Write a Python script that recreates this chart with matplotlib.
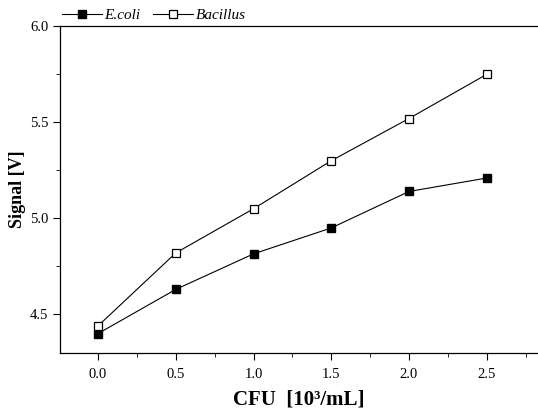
import matplotlib
matplotlib.use("Agg")
import matplotlib.pyplot as plt
from matplotlib.ticker import MultipleLocator, FormatStrFormatter

plt.rcParams['font.family'] = ['Liberation Serif', 'DejaVu Serif']

cfu = [0.0, 0.5, 1.0, 1.5, 2.0, 2.5]
ecoli = [4.40, 4.63, 4.815, 4.95, 5.14, 5.21]
bacillus = [4.44, 4.82, 5.05, 5.30, 5.52, 5.75]

fig = plt.figure(figsize=(5.38, 4.15), dpi=100)
ax = fig.add_axes([0.1115, 0.150, 0.8885, 0.7865])

ax.plot(cfu, ecoli, color='black', lw=0.8, marker='s', ms=6.2,
        mfc='black', mec='black', label='E.coli')
ax.plot(cfu, bacillus, color='black', lw=0.8, marker='s', ms=6.2,
        mfc='white', mec='black', mew=0.9, label='Bacillus')

ax.set_xlim(-0.245, 2.83)
ax.set_ylim(4.30, 6.0)
ax.xaxis.set_major_locator(MultipleLocator(0.5))
ax.xaxis.set_minor_locator(MultipleLocator(0.25))
ax.yaxis.set_major_locator(MultipleLocator(0.5))
ax.yaxis.set_minor_locator(MultipleLocator(0.25))
ax.xaxis.set_major_formatter(FormatStrFormatter('%.1f'))
ax.yaxis.set_major_formatter(FormatStrFormatter('%.1f'))
ax.tick_params(which='major', direction='out', length=5, width=0.8, labelsize=10.5)
ax.tick_params(which='minor', direction='out', length=3, width=0.6)
ax.tick_params(axis='x', pad=6)
ax.spines['right'].set_visible(False)
for s in ['left', 'bottom', 'top']:
    ax.spines[s].set_linewidth(0.9)

ax.set_xlabel('CFU  [10³/mL]', fontsize=15, fontweight='bold', labelpad=6)
ax.set_ylabel('Signal [V]', fontsize=13, fontweight='bold', labelpad=3)

fig.legend(loc='upper left', bbox_to_anchor=(0.095, 1.005), ncol=2, frameon=False,
           prop={'style': 'italic', 'size': 11}, handlelength=2.6, markerscale=0.95,
           handletextpad=0.2, columnspacing=0.8, borderpad=0.2)

fig.savefig('out.png', dpi=100)
